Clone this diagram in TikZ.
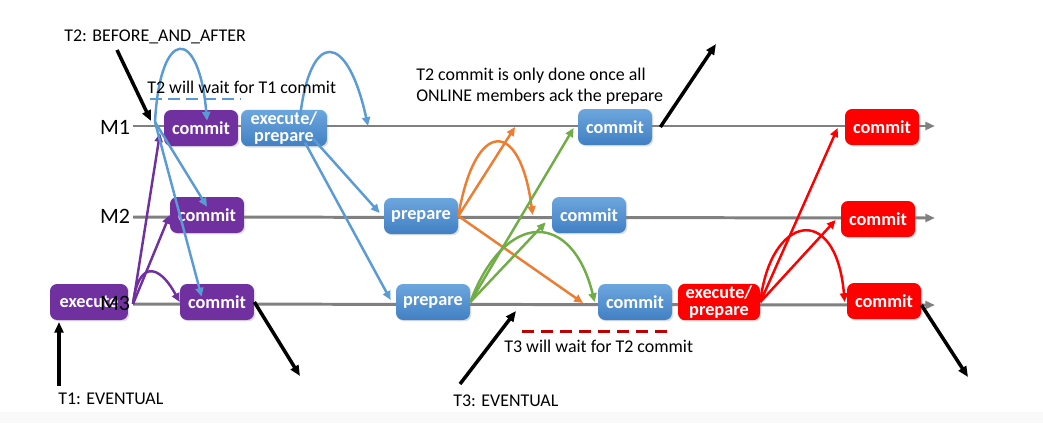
\documentclass[tikz,border=0pt]{standalone}
\usepackage{fontspec}
\setmainfont{Carlito}
\usepackage{xcolor}
\usepackage{tikz}
\usetikzlibrary{positioning,calc,arrows.meta,shadows}
\definecolor{GRPurple}{RGB}{112,48,160}
\definecolor{GRBlueTop}{RGB}{108,166,222}
\definecolor{GRBlueBot}{RGB}{66,128,196}
\definecolor{GRRed}{RGB}{255,0,0}
\definecolor{GRDarkRed}{RGB}{192,0,0}
\definecolor{GRArrowBlue}{RGB}{91,155,213}
\definecolor{GROrange}{RGB}{237,125,49}
\definecolor{GRGreen}{RGB}{112,173,71}
\definecolor{GRGray}{RGB}{128,128,128}
\tikzset{
    stepnode/.style={rounded corners=4pt, minimum width=1.48cm, minimum height=0.72cm, inner sep=1pt, text=white, align=center, font=\bfseries\fontsize{10.4}{9.8}\selectfont, drop shadow={shadow xshift=0.8pt, shadow yshift=-0.8pt, opacity=0.25}},
    member/.style={draw=GRGray, line width=1.7pt, -{Triangle[length=5.5pt, width=4.5pt]}},
    msg/.style={line width=1.4pt, -{Triangle[length=5pt, width=4.5pt]}},
    pointer/.style={draw=black, line width=2pt, -{Triangle[length=6pt, width=5pt]}}
}

\begin{document}
\begin{tikzpicture}[
    x=0.02cm, y=-0.02cm,
    % Style cho tung giao dich
    t1node/.style={stepnode, fill=GRPurple},
    t2node/.style={stepnode, top color=GRBlueTop, bottom color=GRBlueBot},
    t3node/.style={stepnode, fill=GRRed},
    % Style cho chu thich
    note/.style={font=\fontsize{10.2}{12}\selectfont, inner sep=0pt, align=left},
    memberlbl/.style={font=\fontsize{12.5}{14}\selectfont, inner sep=0pt}
]
\useasboundingbox (0,0) rectangle (1043,423);
\fill[gray!5] (0,412) rectangle (1043,423);

% --- DUONG THANH VIEN ---
\coordinate (m1s) at (133,126); \coordinate (m1e) at (935,126);
\coordinate (m2s) at (133,217); \coordinate (m2e) at (935,218);
\coordinate (m3s) at (133,304); \coordinate (m3e) at (935,305);
\draw[member] (m1s) -- (m1e);
\draw[member] (m2s) -- (m2e);
\draw[member] (m3s) -- (m3e);

% --- CAC BUOC ---
% T1 (tim)
\node[t1node, minimum width=1.56cm] (ex3) at (89,302) {execute};
\node[t1node] (c1) at (201,128) {commit};
\node[t1node] (c2) at (207,215) {commit};
\node[t1node] (c3) at (217,302) {commit};
% T2 (xanh)
\node[t2node, minimum width=1.72cm] (ep1) at (284,128) {execute/\\prepare};
\node[t2node] (p2) at (421,216) {prepare};
\node[t2node] (p3) at (433,302) {prepare};
\node[t2node] (b1) at (615,127) {commit};
\node[t2node] (b2) at (589,215) {commit};
\node[t2node] (b3) at (635,302) {commit};
% T3 (do)
\node[t3node, minimum width=1.64cm] (rp3) at (719,302) {execute/\\prepare};
\node[t3node] (r1) at (882,127) {commit};
\node[t3node] (r2) at (878,219) {commit};
\node[t3node] (r3) at (884,301) {commit};

% --- TEN THANH VIEN ---
\node[memberlbl] (M1) at (115,127) {M1};
\node[memberlbl] (M2) at (115,216) {M2};
\node[memberlbl] (M3) at (115,303) {M3};

% --- THONG DIEP ---
% T1
\coordinate (t1m1) at (160,133);
\draw[msg, GRPurple] (m3s) -- (t1m1);
\draw[msg, GRPurple] (m3s) -- (c2.west);
\draw[msg, GRPurple] (m3s) .. controls (138,262) and (158,262) .. (c3.west);
% T2
\coordinate (t2s) at (155,122);
\coordinate (t2m1) at (368,126);
\draw[msg, GRArrowBlue] (t2s) .. controls (160,26) and (199,26) .. ($(c1.north)+(6,11)$);
\draw[msg, GRArrowBlue] (t2s) -- ($(c2.north)+(0,10)$);
\draw[msg, GRArrowBlue] (t2s) -- ($(c3.north west)+(22,13)$);
\draw[msg, GRArrowBlue] ($(ep1.north)+(16,8)$) .. controls (310,30) and (347,30) .. (t2m1);
\draw[msg, GRArrowBlue] ($(ep1.south)+(29,-8)$) -- ($(p2.west)+(-4,-3)$);
\draw[msg, GRArrowBlue] ($(ep1.south)+(21,-4)$) -- ($(p3.west)+(-5,-2)$);
\coordinate (oM1) at (515,127);
\coordinate (oM3) at (583,303);
\draw[msg, GROrange] (p2.east) -- (oM1);
\draw[msg, GROrange] (p2.east) .. controls (475,118) and (520,118) .. ($(b2.west)+(-19,0)$);
\draw[msg, GROrange] (p2.east) -- (oM3);
\draw[msg, GRGreen] (p3.east) -- ($(b1.west)+(-4,1)$);
\draw[msg, GRGreen] (p3.east) -- ($(b2.south west)+(-6,-11)$);
\draw[msg, GRGreen] (p3.east) .. controls (505,210) and (572,210) .. ($(b3.west)+(-3,0)$);
% T3
\draw[msg, GRRed] (rp3.east) -- ($(r1.west)+(-7,1)$);
\draw[msg, GRRed] (rp3.east) -- ($(r2.west)+(-5,1)$);
\draw[msg, GRRed] (rp3.east) .. controls (770,215) and (836,201) .. ($(r3.west)+(-2,1)$);

% --- CHU THICH ---
\node[note, anchor=west] (t2lbl) at (64,37) {T2: BEFORE\_AND\_AFTER};
\node[note, anchor=west] (waitT1) at (147,87) {T2 will wait for T1 commit};
\node[note, anchor=west] (ackLbl) at (416,86) {T2 commit is only done once all\\ONLINE members ack the prepare};
\node[note, anchor=west] (waitT2) at (504,346) {T3 will wait for T2 commit};
\node[note, anchor=west] (t1lbl) at (58,399) {T1: EVENTUAL};
\node[note, anchor=west] (t3lbl) at (453,401) {T3: EVENTUAL};
\draw[GRArrowBlue, line width=1.7pt, dash pattern=on 6.8pt off 3.4pt] (150,99) -- (241,99);
\draw[GRDarkRed, line width=1.7pt, dash pattern=on 6.8pt off 4pt] (522,331) -- (673,331);

% --- MUI TEN DEN ---
\coordinate (t2tail) at (117,50);  \coordinate (t2tip) at (151,121);
\coordinate (t1tail) at (59,386);  \coordinate (t1tip) at (59,322);
\coordinate (t3tail) at (460,384); \coordinate (t3tip) at (516,311);
\coordinate (c3out) at (300,376);
\coordinate (b1out) at (716,44);
\coordinate (r3out) at (968,377);
\draw[pointer] (t2tail) -- (t2tip);
\draw[pointer] (t1tail) -- (t1tip);
\draw[pointer] (t3tail) -- (t3tip);
\draw[pointer] (c3.east) -- (c3out);
\draw[pointer] ($(b1.east)+(8,0)$) -- (b1out);
\draw[pointer] ($(r3.east)+(0,4)$) -- (r3out);

\end{tikzpicture}
\end{document}
